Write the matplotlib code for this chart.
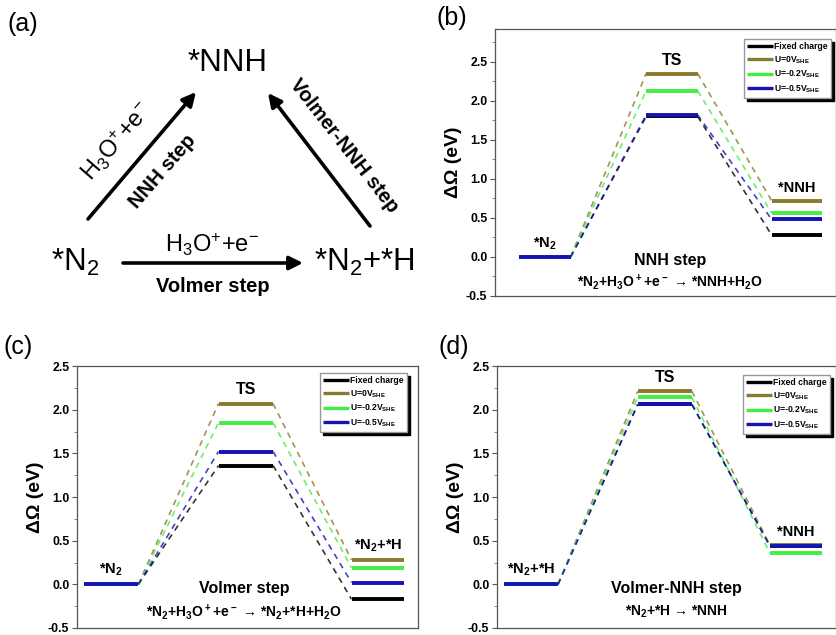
import matplotlib.pyplot as plt
import numpy as np

plt.rcParams["font.family"] = ["Liberation Sans", "DejaVu Sans"]
plt.rcParams["font.weight"] = "bold"
plt.rcParams["axes.unicode_minus"] = False
plt.rcParams["mathtext.fontset"] = "custom"
plt.rcParams["mathtext.rm"] = "Liberation Sans:bold"
plt.rcParams["mathtext.sf"] = "Liberation Sans:regular"
plt.rcParams["mathtext.default"] = "rm"

# data: free energy levels (eV), order = fixed charge, U=0, U=-0.2, U=-0.5
series = ["Fixed charge", "U=0V$_{SHE}$", "U=-0.2V$_{SHE}$", "U=-0.5V$_{SHE}$"]
colors = ["#000000", "#8a7a2c", "#44ec44", "#1414b4"]

nnh_start = [0.0, 0.0, 0.0, 0.0]
nnh_ts = [1.80, 2.35, 2.13, 1.82]
nnh_end = [0.28, 0.72, 0.56, 0.48]

volmer_start = [0.0, 0.0, 0.0, 0.0]
volmer_ts = [1.36, 2.07, 1.85, 1.52]
volmer_end = [-0.17, 0.28, 0.19, 0.02]

vnnh_start = [0.0, 0.0, 0.0, 0.0]
vnnh_ts = [2.06, 2.21, 2.14, 2.06]
vnnh_end = [0.44, 0.45, 0.36, 0.44]

W, H = 837, 635
fig = plt.figure(figsize=(W / 100, H / 100), dpi=100)


def fx(px):
    return px / W


def fy(py):
    return 1 - py / H


def axes_px(left, top, right, bottom):
    return fig.add_axes([fx(left), fy(bottom), (right - left) / W, (bottom - top) / H])


levels_x = [(0.2, 1.8), (4.15, 5.75), (8.05, 9.6)]


def draw_profile(ax, start, ts, end, xlim, ylim, names, step, eq, step_x, legend_anchor):
    for k in range(len(series)):
        ys = [start[k], ts[k], end[k]]
        for i, (x0, x1) in enumerate(levels_x):
            ax.plot([x0, x1], [ys[i], ys[i]], color=colors[k], lw=2.8,
                    solid_capstyle="butt", zorder=3 + k,
                    label=series[k] if i == 0 else None)
        for i in range(2):
            ax.plot([levels_x[i][1], levels_x[i + 1][0]], [ys[i], ys[i + 1]],
                    color=colors[k], lw=1.2, ls=(0, (3.5, 3)), alpha=0.8, zorder=2 + k)
    ax.set_xlim(*xlim)
    ax.set_ylim(*ylim)
    ax.set_xticks([])
    ax.set_yticks(np.arange(-0.5, 2.51, 0.5))
    ax.set_yticks(np.arange(-0.5, ylim[1], 0.25), minor=True)
    ax.yaxis.set_major_formatter(plt.FormatStrFormatter("%.1f"))
    ax.tick_params(axis="y", which="major", direction="out", length=3.5, width=0.8,
                   labelsize=8.8, pad=2, color="#555555")
    ax.tick_params(axis="y", which="minor", direction="out", length=2, width=0.6,
                   color="#777777")
    for lab in ax.get_yticklabels():
        lab.set_fontweight("bold")
    for sp in ax.spines.values():
        sp.set_color("#555555")
        sp.set_linewidth(0.9)
    ax.set_ylabel("ΔΩ (eV)", fontsize=14, fontweight="bold", labelpad=3)

    tops = [max(start), max(ts), max(end)]
    for i, (x0, x1) in enumerate(levels_x):
        ax.text((x0 + x1) / 2, tops[i] + 0.07, names[i], ha="center", va="bottom",
                fontsize=11.5 if i == 1 else 10.5, fontweight="bold")
    ax.text(step_x, -0.05, step, ha="center", va="center", fontsize=11.5, fontweight="bold")
    ax.text(step_x, -0.32, eq, ha="center", va="center", fontsize=10, fontweight="bold")

    leg = ax.legend(loc="upper right", bbox_to_anchor=legend_anchor,
                    bbox_transform=fig.transFigure, borderaxespad=0,
                    fontsize=6.2, handlelength=3.0, handletextpad=0.1,
                    labelspacing=0.35, borderpad=0.4, fancybox=False, framealpha=1,
                    edgecolor="#999999", shadow={"color": "k", "alpha": 1})
    for t in leg.get_texts():
        t.set_fontweight("bold")
    for h in leg.get_lines():
        h.set_linewidth(2.4)


# ---- (a) reaction scheme ----
ax_a = axes_px(0, 0, 430, 320)
ax_a.set_xlim(0, 430)
ax_a.set_ylim(320, 0)
ax_a.axis("off")

ax_a.text(227, 63, "*NNH", ha="center", va="center", fontsize=22.5, fontweight="normal")
ax_a.text(75, 262, "*N$_\\mathsf{2}$", ha="center", va="center", fontsize=22.5,
          fontweight="normal")
ax_a.text(364, 262, "*N$_\\mathsf{2}$+*H", ha="center", va="center", fontsize=22.5,
          fontweight="normal")

arrow = dict(arrowstyle="-|>", lw=2.6, color="k", mutation_scale=20, shrinkA=0, shrinkB=0)
ax_a.annotate("", xy=(303, 263), xytext=(123, 263), arrowprops=arrow)
ax_a.annotate("", xy=(196, 92), xytext=(88, 219), arrowprops=arrow)
ax_a.annotate("", xy=(268, 93), xytext=(370, 226), arrowprops=arrow)

ax_a.text(212, 245, "H$_\\mathsf{3}$O$^\\mathsf{+}$+e$^\\mathsf{-}$", ha="center", va="center",
          fontsize=17, fontweight="normal")
ax_a.text(213, 287, "Volmer step", ha="center", va="center", fontsize=14.5, fontweight="bold")
ax_a.text(117, 142, "H$_\\mathsf{3}$O$^\\mathsf{+}$+e$^\\mathsf{-}$", ha="center", va="center",
          fontsize=17, fontweight="normal", rotation=49, rotation_mode="anchor")
ax_a.text(163, 171, "NNH step", ha="center", va="center", fontsize=14.5, fontweight="bold",
          rotation=49, rotation_mode="anchor")
ax_a.text(344, 146, "Volmer-NNH step", ha="center", va="center", fontsize=14.5,
          fontweight="bold", rotation=-52, rotation_mode="anchor")

# ---- (b) NNH step ----
ax_b = axes_px(495, 29, 836, 296)
draw_profile(ax_b, nnh_start, nnh_ts, nnh_end, (-0.55, 10.05), (-0.5, 2.92),
             ["*N$_2$", "TS", "*NNH"], "NNH step",
             "*N$_2$+H$_3$O$^+$+e$^-$ → *NNH+H$_2$O", 4.9, (fx(831), fy(39)))

# ---- (c) Volmer step ----
ax_c = axes_px(77, 366, 418, 628)
draw_profile(ax_c, volmer_start, volmer_ts, volmer_end, (0, 10), (-0.5, 2.5),
             ["*N$_2$", "TS", "*N$_2$+*H"], "Volmer step",
             "*N$_2$+H$_3$O$^+$+e$^-$ → *N$_2$+*H+H$_2$O", 4.9, (fx(407), fy(373)))

# ---- (d) Volmer-NNH step ----
ax_d = axes_px(497, 366, 836, 628)
draw_profile(ax_d, vnnh_start, vnnh_ts, vnnh_end, (0, 10), (-0.5, 2.5),
             ["*N$_2$+*H", "TS", "*NNH"], "Volmer-NNH step",
             "*N$_2$+*H → *NNH", 5.3, (fx(830), fy(375)))

for lab, x, y in [("(a)", 8, 24), ("(b)", 437, 18), ("(c)", 4, 347), ("(d)", 438, 347)]:
    fig.text(fx(x), fy(y), lab, ha="left", va="center", fontsize=18, fontweight="normal")

fig.savefig("out.png", dpi=100)
